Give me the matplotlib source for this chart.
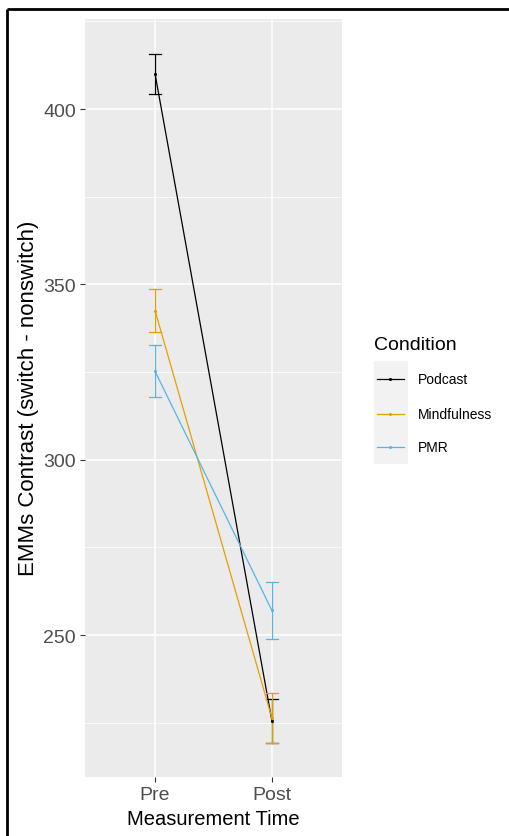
import matplotlib.pyplot as plt
from matplotlib.lines import Line2D
from matplotlib.patches import Rectangle
from matplotlib.ticker import MultipleLocator

plt.rcParams['font.family'] = ['Liberation Sans', 'DejaVu Sans']

# EMM contrasts (switch - nonswitch) by condition and time, with SE
times = ["Pre", "Post"]
conditions = ["Podcast", "Mindfulness", "PMR"]
podcast_emm = [410.0, 225.5]
podcast_se = [5.8, 6.2]
mindfulness_emm = [342.5, 226.3]
mindfulness_se = [6.2, 7.1]
pmr_emm = [325.2, 257.0]
pmr_se = [7.4, 8.0]

colors = {"Podcast": "#000000", "Mindfulness": "#E69F00", "PMR": "#56B4E9"}
series = {
    "Podcast": (podcast_emm, podcast_se),
    "Mindfulness": (mindfulness_emm, mindfulness_se),
    "PMR": (pmr_emm, pmr_se),
}

W, H = 509, 837
fig = plt.figure(figsize=(W / 100, H / 100), dpi=100)
fig.patch.set_facecolor("white")

# panel placed in pixel terms
px0, px1, py0, py1 = 85, 342, 20, 778
ax = fig.add_axes([px0 / W, 1 - py1 / H, (px1 - px0) / W, (py1 - py0) / H])
ax.set_facecolor("#EBEBEB")

x = list(range(1, len(times) + 1))
cap = 0.05
for name in conditions:
    emm, se = series[name]
    c = colors[name]
    ax.plot(x, emm, color=c, lw=0.9, zorder=3)
    ax.scatter(x, emm, s=5, color=c, zorder=4, linewidths=0)
    for xi, m, s in zip(x, emm, se):
        ax.plot([xi, xi], [m - s, m + s], color=c, lw=0.9, zorder=3)
        ax.plot([xi - cap, xi + cap], [m + s, m + s], color=c, lw=0.9, zorder=3)
        ax.plot([xi - cap, xi + cap], [m - s, m - s], color=c, lw=0.9, zorder=3)

ax.set_xlim(0.4, 2.6)
ax.set_ylim(209.5, 425.7)
ax.set_xticks(x)
ax.set_xticklabels(times)
ax.yaxis.set_major_locator(MultipleLocator(50))
ax.yaxis.set_minor_locator(MultipleLocator(25))

ax.grid(which="major", color="white", lw=1.1)
ax.grid(which="minor", axis="y", color="white", lw=0.55)
ax.set_axisbelow(True)
for sp in ax.spines.values():
    sp.set_visible(False)
ax.tick_params(which="major", length=3.5, width=0.8, color="#333333",
               labelcolor="#4D4D4D", labelsize=14, pad=3)
ax.tick_params(which="minor", length=0)

ax.set_xlabel("Measurement Time", fontsize=14.5, labelpad=4)
fig.text(29 / W, 1 - 398 / H, "EMMs Contrast (switch - nonswitch)",
         fontsize=16, rotation=90, ha="center", va="center")

# legend drawn in pixel coordinates on an overlay axes
lax = fig.add_axes([0, 0, 1, 1], facecolor="none")
lax.set_xlim(0, W)
lax.set_ylim(H, 0)
lax.axis("off")
lax.text(374, 345, "Condition", fontsize=14, va="center", ha="left")
lax.add_patch(Rectangle((374, 362), 34, 103, facecolor="#F2F2F2", edgecolor="none"))
row_y = [380, 415, 448]
for name, yy in zip(conditions, row_y):
    lax.add_line(Line2D([377, 404], [yy, yy], color=colors[name], lw=0.9))
    lax.plot([390.5], [yy], "o", ms=2.2, color=colors[name], mew=0)
    lax.text(418, yy, name, fontsize=10, va="center", ha="left")

# frame lines along top and left edges
lax.add_line(Line2D([7, W], [10, 10], color="black", lw=2, solid_capstyle="butt"))
lax.add_line(Line2D([7, 7], [10, H], color="black", lw=2, solid_capstyle="butt"))

fig.savefig("out.png", dpi=100)
